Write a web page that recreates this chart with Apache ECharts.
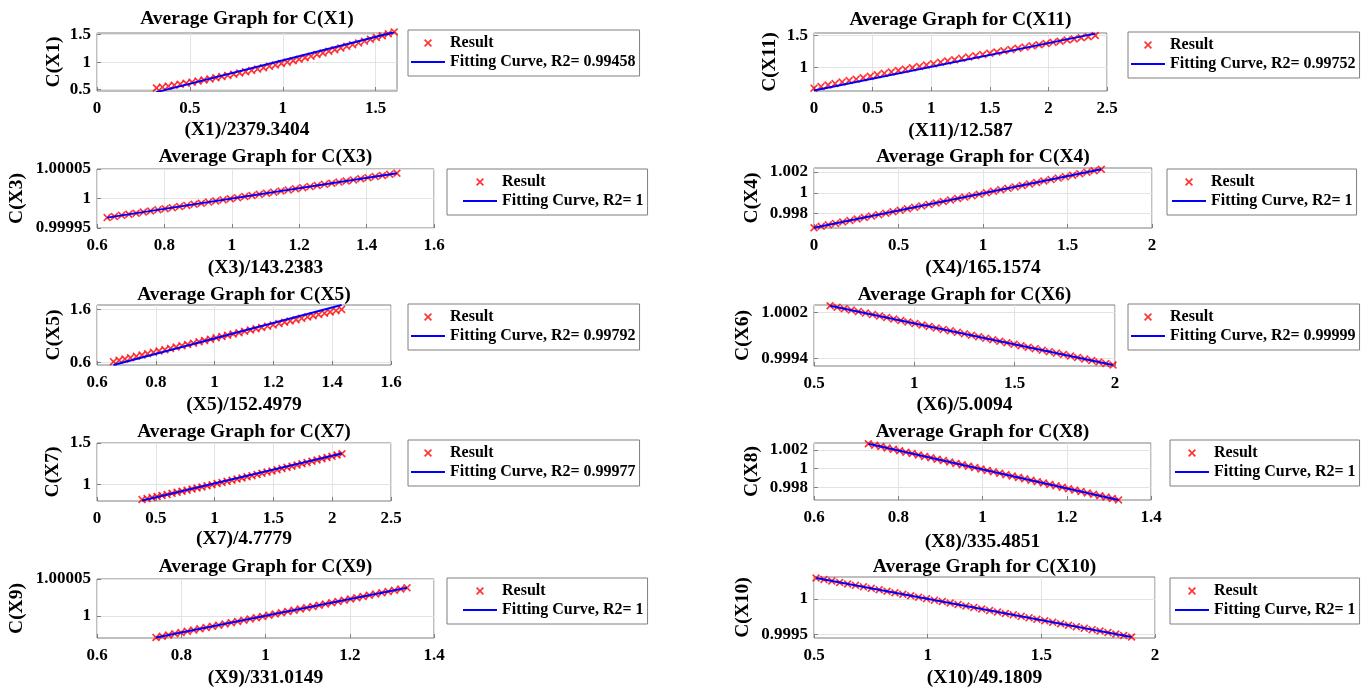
<!DOCTYPE html>
<html><head><meta charset="utf-8">
<script src="https://cdn.jsdelivr.net/npm/echarts@6/dist/echarts.min.js"></script>
<style>html,body{margin:0;padding:0;background:#fff}#c{width:1372px;height:688px}</style>
</head><body><div id="c"></div>
<script>
// ---------- DATA ----------
const x1X = [0.32,0.352,0.384,0.416,0.448,0.48,0.512,0.544,0.576,0.608,0.64,0.672,0.704,0.736,0.768,0.8,0.832,0.864,0.896,0.928,0.96,0.992,1.024,1.056,1.088,1.12,1.152,1.184,1.216,1.248,1.28,1.312,1.344,1.376,1.408,1.44,1.472,1.504,1.536,1.568,1.6];
const x1Y = [0.530,0.546,0.563,0.581,0.599,0.617,0.636,0.655,0.675,0.695,0.716,0.737,0.759,0.781,0.803,0.826,0.850,0.873,0.898,0.923,0.948,0.974,1.000,1.026,1.053,1.081,1.109,1.138,1.167,1.196,1.226,1.256,1.287,1.318,1.350,1.382,1.415,1.448,1.481,1.516,1.550];
const x1FitX = [0.32, 1.6];
const x1FitY = [0.455, 1.545];

const x3X = [0.63,0.6515,0.673,0.6945,0.716,0.7375,0.759,0.7805,0.802,0.8235,0.845,0.8665,0.888,0.9095,0.931,0.9525,0.974,0.9955,1.017,1.0385,1.06,1.0815,1.103,1.1245,1.146,1.1675,1.189,1.2105,1.232,1.2535,1.275,1.2965,1.318,1.3395,1.361,1.3825,1.404,1.4255,1.447,1.4685,1.49];
const x3Y = [0.9999676,0.9999695,0.9999714,0.9999732,0.9999751,0.9999770,0.9999789,0.9999808,0.9999826,0.9999845,0.9999864,0.9999883,0.9999902,0.9999920,0.9999939,0.9999958,0.9999977,0.9999996,1.0000014,1.0000033,1.0000052,1.0000071,1.0000090,1.0000108,1.0000127,1.0000146,1.0000165,1.0000184,1.0000202,1.0000221,1.0000240,1.0000259,1.0000278,1.0000296,1.0000315,1.0000334,1.0000353,1.0000372,1.0000390,1.0000409,1.0000428];
const x3FitX = [0.63, 1.49];
const x3FitY = [0.9999676, 1.0000428];

const x5X = [0.656,0.675,0.695,0.714,0.734,0.753,0.772,0.792,0.811,0.831,0.850,0.869,0.889,0.908,0.928,0.947,0.966,0.986,1.005,1.025,1.044,1.063,1.083,1.102,1.122,1.141,1.160,1.180,1.199,1.219,1.238,1.257,1.277,1.296,1.316,1.335,1.354,1.374,1.393,1.413,1.432];
const x5Y = [0.620,0.645,0.670,0.695,0.719,0.744,0.769,0.794,0.818,0.843,0.868,0.893,0.917,0.942,0.966,0.991,1.016,1.040,1.065,1.089,1.114,1.138,1.162,1.187,1.211,1.236,1.260,1.284,1.308,1.333,1.357,1.381,1.405,1.430,1.454,1.478,1.502,1.526,1.550,1.574,1.598];
const x5FitX = [0.656, 1.432];
const x5FitY = [0.557, 1.68];

const x7X = [0.383,0.426,0.468,0.511,0.553,0.596,0.638,0.681,0.723,0.766,0.808,0.851,0.893,0.936,0.978,1.021,1.063,1.106,1.148,1.191,1.233,1.276,1.318,1.361,1.403,1.446,1.488,1.531,1.573,1.616,1.658,1.701,1.743,1.786,1.828,1.871,1.913,1.956,1.998,2.041,2.083];
const x7Y = [0.812,0.824,0.837,0.850,0.862,0.875,0.888,0.901,0.914,0.927,0.940,0.953,0.966,0.980,0.993,1.007,1.020,1.034,1.048,1.061,1.075,1.089,1.103,1.117,1.132,1.146,1.160,1.175,1.189,1.204,1.218,1.233,1.248,1.263,1.278,1.293,1.308,1.323,1.338,1.354,1.369];
const x7FitX = [0.383, 2.083];
const x7FitY = [0.800, 1.372];

const x9X = [0.74,0.7549,0.7698,0.7847,0.7996,0.8145,0.8294,0.8443,0.8592,0.8741,0.889,0.9039,0.9188,0.9337,0.9486,0.9635,0.9784,0.9933,1.0082,1.0231,1.038,1.0529,1.0678,1.0827,1.0976,1.1125,1.1274,1.1423,1.1572,1.1721,1.187,1.2019,1.2168,1.2317,1.2466,1.2615,1.2764,1.2913,1.3062,1.3211,1.336];
const x9Y = [0.9999706,0.9999723,0.9999740,0.9999757,0.9999773,0.9999790,0.9999807,0.9999824,0.9999841,0.9999858,0.9999874,0.9999891,0.9999908,0.9999925,0.9999942,0.9999959,0.9999975,0.9999992,1.0000009,1.0000026,1.0000043,1.0000060,1.0000076,1.0000093,1.0000110,1.0000127,1.0000144,1.0000161,1.0000178,1.0000194,1.0000211,1.0000228,1.0000245,1.0000262,1.0000279,1.0000295,1.0000312,1.0000329,1.0000346,1.0000363,1.0000380];
const x9FitX = [0.74, 1.336];
const x9FitY = [0.9999706, 1.0000380];

const x11X = [0,0.06,0.12,0.18,0.24,0.3,0.36,0.42,0.48,0.54,0.6,0.66,0.72,0.78,0.84,0.9,0.96,1.02,1.08,1.14,1.2,1.26,1.32,1.38,1.44,1.5,1.56,1.62,1.68,1.74,1.8,1.86,1.92,1.98,2.04,2.1,2.16,2.22,2.28,2.34,2.4];
const x11Y = [0.675,0.699,0.723,0.746,0.770,0.793,0.816,0.839,0.862,0.884,0.907,0.929,0.951,0.973,0.994,1.016,1.037,1.059,1.080,1.101,1.121,1.142,1.162,1.182,1.202,1.222,1.242,1.261,1.281,1.300,1.319,1.338,1.356,1.375,1.393,1.411,1.429,1.447,1.465,1.482,1.500];
const x11FitX = [0, 2.4];
const x11FitY = [0.637, 1.53];

const x4X = [0,0.0425,0.085,0.1275,0.17,0.2125,0.255,0.2975,0.34,0.3825,0.425,0.4675,0.51,0.5525,0.595,0.6375,0.68,0.7225,0.765,0.8075,0.85,0.8925,0.935,0.9775,1.02,1.0625,1.105,1.1475,1.19,1.2325,1.275,1.3175,1.36,1.4025,1.445,1.4875,1.53,1.5725,1.615,1.6575,1.7];
const x4Y = [0.996650,0.996790,0.996931,0.997071,0.997211,0.997351,0.997492,0.997632,0.997772,0.997912,0.998053,0.998193,0.998333,0.998473,0.998614,0.998754,0.998894,0.999034,0.999175,0.999315,0.999455,0.999595,0.999736,0.999876,1.000016,1.000156,1.000297,1.000437,1.000577,1.000717,1.000858,1.000998,1.001138,1.001278,1.001419,1.001559,1.001699,1.001839,1.001980,1.002120,1.002260];
const x4FitX = [0, 1.7];
const x4FitY = [0.99665, 1.00226];

const x6X = [0.58,0.6153,0.6505,0.6858,0.721,0.7563,0.7915,0.8268,0.862,0.8973,0.9325,0.9678,1.003,1.0383,1.0735,1.1088,1.144,1.1793,1.2145,1.2498,1.285,1.3203,1.3555,1.3908,1.426,1.4613,1.4965,1.5318,1.567,1.6023,1.6375,1.6728,1.708,1.7433,1.7785,1.8138,1.849,1.8843,1.9195,1.9548,1.99];
const x6Y = [1.000315,1.000289,1.000263,1.000238,1.000212,1.000186,1.000160,1.000135,1.000109,1.000083,1.000057,1.000032,1.000006,0.999980,0.999954,0.999928,0.999903,0.999877,0.999851,0.999825,0.999800,0.999774,0.999748,0.999722,0.999697,0.999671,0.999645,0.999619,0.999593,0.999568,0.999542,0.999516,0.999490,0.999465,0.999439,0.999413,0.999387,0.999362,0.999336,0.999310,0.999284];
const x6FitX = [0.58, 1.99];
const x6FitY = [1.000315, 0.999284];

const x8X = [0.729,0.7439,0.7587,0.7736,0.7884,0.8033,0.8181,0.833,0.8478,0.8627,0.8775,0.8924,0.9072,0.9221,0.9369,0.9518,0.9666,0.9815,0.9963,1.0112,1.026,1.0409,1.0557,1.0706,1.0854,1.1003,1.1151,1.13,1.1448,1.1597,1.1745,1.1894,1.2042,1.2191,1.2339,1.2488,1.2636,1.2785,1.2933,1.3082,1.323];
const x8Y = [1.002670,1.002519,1.002368,1.002217,1.002066,1.001915,1.001764,1.001613,1.001462,1.001311,1.001160,1.001009,1.000858,1.000707,1.000556,1.000405,1.000254,1.000103,0.999952,0.999801,0.999650,0.999499,0.999348,0.999197,0.999046,0.998895,0.998744,0.998593,0.998442,0.998291,0.998140,0.997989,0.997838,0.997687,0.997536,0.997385,0.997234,0.997083,0.996932,0.996781,0.996630];
const x8FitX = [0.729, 1.323];
const x8FitY = [1.00267, 0.99663];

const x10X = [0.509,0.5437,0.5784,0.6131,0.6478,0.6825,0.7172,0.7519,0.7866,0.8213,0.856,0.8907,0.9254,0.9601,0.9948,1.0295,1.0642,1.0989,1.1336,1.1683,1.203,1.2377,1.2724,1.3071,1.3418,1.3765,1.4112,1.4459,1.4806,1.5153,1.55,1.5847,1.6194,1.6541,1.6888,1.7235,1.7582,1.7929,1.8276,1.8623,1.897];
const x10Y = [1.000294,1.000273,1.000253,1.000232,1.000211,1.000191,1.000170,1.000149,1.000129,1.000108,1.000088,1.000067,1.000046,1.000026,1.000005,0.999984,0.999964,0.999943,0.999922,0.999902,0.999881,0.999860,0.999840,0.999819,0.999798,0.999778,0.999757,0.999736,0.999716,0.999695,0.999675,0.999654,0.999633,0.999613,0.999592,0.999571,0.999551,0.999530,0.999509,0.999489,0.999468];
const x10FitX = [0.509, 1.897];
const x10FitY = [1.000294, 0.999468];

// panel order: left column X1,X3,X5,X7,X9 ; right column X11,X4,X6,X8,X10
const varNames = ['X1','X3','X5','X7','X9','X11','X4','X6','X8','X10'];
const xAxisNames = ['(X1)/2379.3404','(X3)/143.2383','(X5)/152.4979','(X7)/4.7779','(X9)/331.0149','(X11)/12.587','(X4)/165.1574','(X6)/5.0094','(X8)/335.4851','(X10)/49.1809'];
const r2Values = ['0.99458','1','0.99792','0.99977','1','0.99752','1','0.99999','1','1'];
const xTicks = [[0,0.5,1,1.5],[0.6,0.8,1,1.2,1.4,1.6],[0.6,0.8,1,1.2,1.4,1.6],[0,0.5,1,1.5,2,2.5],[0.6,0.8,1,1.2,1.4],[0,0.5,1,1.5,2,2.5],[0,0.5,1,1.5,2],[0.5,1,1.5,2],[0.6,0.8,1,1.2,1.4],[0.5,1,1.5,2]];
const yTicks = [[0.5,1,1.5],[0.99995,1,1.00005],[0.6,1.6],[1,1.5],[1,1.00005],[1,1.5],[0.998,1,1.002],[0.9994,1.0002],[0.998,1,1.002],[0.9995,1]];
const xRanges = [[0,1.615],[0.6,1.6],[0.6,1.6],[0,2.5],[0.6,1.4],[0,2.5],[0,2],[0.5,2],[0.6,1.4],[0.5,2]];
const yRanges = [[0.475,1.53],[0.99995,1.00005],[0.557,1.68],[0.795,1.5],[0.99997,1.00005],[0.63,1.54],[0.99663,1.00239],[0.999266,1.000327],[0.99662,1.00275],[0.999454,1.000308]];

const resX = [x1X,x3X,x5X,x7X,x9X,x11X,x4X,x6X,x8X,x10X];
const resY = [x1Y,x3Y,x5Y,x7Y,x9Y,x11Y,x4Y,x6Y,x8Y,x10Y];
const fitX = [x1FitX,x3FitX,x5FitX,x7FitX,x9FitX,x11FitX,x4FitX,x6FitX,x8FitX,x10FitX];
const fitY = [x1FitY,x3FitY,x5FitY,x7FitY,x9FitY,x11FitY,x4FitY,x6FitY,x8FitY,x10FitY];

// ---------- LAYOUT (positions only) ----------
const layout = [
  {l:97, t:33, w:300,h:58, tt:9,   xg:29, yg:33, lgl:408, lgt:30,  pl:3},
  {l:97, t:169,w:337,h:59, tt:147, xg:30, yg:70, lgl:447, lgt:169, pl:16},
  {l:97, t:305,w:294,h:60, tt:285, xg:30, yg:33, lgl:408, lgt:304, pl:3},
  {l:97, t:443,w:294,h:58, tt:422, xg:28, yg:34, lgl:408, lgt:440, pl:3},
  {l:97, t:579,w:337,h:59, tt:557, xg:30, yg:70, lgl:447, lgt:578, pl:16},
  {l:814,t:33, w:293,h:58, tt:10,  xg:30, yg:34, lgl:1128,lgt:32,  pl:3},
  {l:814,t:168,w:338,h:60, tt:147, xg:30, yg:52, lgl:1167,lgt:169, pl:5},
  {l:814,t:305,w:301,h:61, tt:285, xg:29, yg:61, lgl:1128,lgt:304, pl:3},
  {l:814,t:443,w:337,h:57, tt:422, xg:32, yg:52, lgl:1170,lgt:440, pl:5},
  {l:814,t:577,w:341,h:61, tt:557, xg:30, yg:61, lgl:1170,lgt:578, pl:5}
];

const XPATH = 'path://M0,1.5L1.5,0L5,3.5L8.5,0L10,1.5L6.5,5L10,8.5L8.5,10L5,6.5L1.5,10L0,8.5L3.5,5Z';
const LINEPATH = 'path://M0,0L34,0L34,2L0,2Z';
const FONT = '"Liberation Serif","Times New Roman",serif';
const fmt = v => String(parseFloat(Number(v).toPrecision(8)));
const pairs = (xs, ys) => xs.map((x, i) => [x, ys[i]]);

const option = {animation:false, backgroundColor:'#fff', grid:[], xAxis:[], yAxis:[], title:[], legend:[], series:[]};
layout.forEach((L, i) => {
  const fitName = 'Fitting Curve, R2= ' + r2Values[i];
  option.grid.push({left:L.l, top:L.t, width:L.w, height:L.h, show:true, borderColor:'#7f7f7f', borderWidth:1,
    backgroundColor:'#fff', containLabel:false, outerBoundsMode:'none'});
  option.title.push({text:'Average Graph for C(' + varNames[i] + ')', left:L.l + L.w/2, top:L.tt, textAlign:'center', padding:0,
    textStyle:{fontFamily:FONT, fontSize:19.5, fontWeight:'bold', color:'#000'}});
  option.xAxis.push({type:'value', gridIndex:i, min:xRanges[i][0], max:xRanges[i][1],
    name:xAxisNames[i], nameLocation:'middle', nameGap:L.xg, nameMoveOverlap:false,
    nameTextStyle:{fontFamily:FONT, fontSize:19.5, fontWeight:'bold', color:'#000'},
    axisLine:{show:false},
    axisTick:{show:true, inside:true, length:4, customValues:xTicks[i], lineStyle:{color:'#7f7f7f'}},
    axisLabel:{customValues:xTicks[i], formatter:fmt, margin:9, fontFamily:FONT, fontSize:17, fontWeight:'bold', color:'#000'},
    splitLine:{show:true, lineStyle:{color:'#e3e3e3', width:1}}});
  option.yAxis.push({type:'value', gridIndex:i, min:yRanges[i][0], max:yRanges[i][1],
    name:'C(' + varNames[i] + ')', nameLocation:'middle', nameGap:L.yg, nameMoveOverlap:false,
    nameTextStyle:{fontFamily:FONT, fontSize:19.5, fontWeight:'bold', color:'#000'},
    axisLine:{show:false},
    axisTick:{show:true, inside:true, length:4, customValues:yTicks[i], lineStyle:{color:'#7f7f7f'}},
    axisLabel:{customValues:yTicks[i], formatter:fmt, margin:6, fontFamily:FONT, fontSize:17, fontWeight:'bold', color:'#000'},
    splitLine:{show:true, lineStyle:{color:'#e3e3e3', width:1}}});
  option.series.push({type:'scatter', name:'Result', xAxisIndex:i, yAxisIndex:i, data:pairs(resX[i], resY[i]),
    symbol:XPATH, symbolSize:8, itemStyle:{color:'#ff0000'}, clip:false, z:2});
  option.series.push({type:'line', name:fitName, xAxisIndex:i, yAxisIndex:i, data:pairs(fitX[i], fitY[i]),
    symbol:'none', showSymbol:false, lineStyle:{color:'#0000ff', width:2}, itemStyle:{color:'#0000ff'}, z:3});
  option.legend.push({orient:'vertical', left:L.lgl, top:L.lgt, selectedMode:false,
    padding:[5,4,6,L.pl], itemWidth:34, itemHeight:8, itemGap:3,
    borderColor:'#7f7f7f', borderWidth:1, borderRadius:0, backgroundColor:'#fff',
    textStyle:{fontFamily:FONT, fontSize:16, fontWeight:'bold', color:'#000', lineHeight:16},
    data:[{name:'Result', icon:XPATH}, {name:fitName, icon:LINEPATH}]});
});

const chart = echarts.init(document.getElementById('c'), null, {renderer:'canvas', width:1372, height:688});
chart.setOption(option);
</script>
</body></html>
